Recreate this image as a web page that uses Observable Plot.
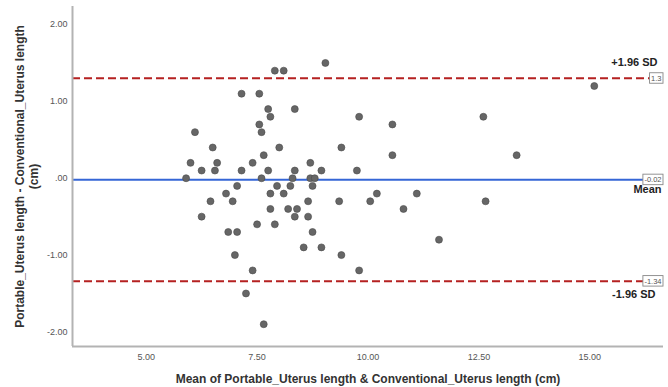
<!DOCTYPE html>
<html><head><meta charset="utf-8">
<script src="https://cdn.jsdelivr.net/npm/d3@7"></script>
<script src="https://cdn.jsdelivr.net/npm/@observablehq/plot@0.6"></script>
<style>body{margin:0;background:#fff;}</style>
</head><body><div id="chart"></div>
<script>
// Mean of the two measurements (x) and their difference (y)
const meanX = [
  9.04,
  7.9, 8.1,
  15.1,
  7.15, 7.55,
  7.75, 8.35,
  7.8, 9.8, 12.6,
  7.55, 10.55,
  6.1, 7.6,
  6.5, 8.0, 9.4,
  7.65, 10.55, 13.35,
  6.0, 6.6, 7.4, 8.7,
  6.25, 6.55, 7.15, 7.75, 8.35, 8.95, 9.75,
  5.9, 7.6, 8.3, 8.7, 8.8,
  7.05, 7.95, 8.25, 8.75,
  6.8, 7.8, 8.1, 10.2, 11.1,
  6.45, 6.95, 8.65, 9.35, 10.05, 12.65,
  7.8, 8.2, 8.4, 10.8,
  6.25, 8.35, 8.65,
  7.5, 7.9,
  6.85, 7.05, 8.75,
  11.6,
  8.55, 8.95,
  7.0, 9.4,
  7.4, 9.8,
  7.25,
  7.65
];
const diffY = [
  1.5,
  1.4, 1.4,
  1.2,
  1.1, 1.1,
  0.9, 0.9,
  0.8, 0.8, 0.8,
  0.7, 0.7,
  0.6, 0.6,
  0.4, 0.4, 0.4,
  0.3, 0.3, 0.3,
  0.2, 0.2, 0.2, 0.2,
  0.1, 0.1, 0.1, 0.1, 0.1, 0.1, 0.1,
  0.0, 0.0, 0.0, 0.0, 0.0,
  -0.1, -0.1, -0.1, -0.1,
  -0.2, -0.2, -0.2, -0.2, -0.2,
  -0.3, -0.3, -0.3, -0.3, -0.3, -0.3,
  -0.4, -0.4, -0.4, -0.4,
  -0.5, -0.5, -0.5,
  -0.6, -0.6,
  -0.7, -0.7, -0.7,
  -0.8,
  -0.9, -0.9,
  -1.0, -1.0,
  -1.2, -1.2,
  -1.5,
  -1.9
];
const limitValues = [1.3, -0.02, -1.34];
const limitLabels = ["+1.96 SD", "Mean", "-1.96 SD"];
const limitBoxLabels = ["1.3", "-0.02", "-1.34"];
const yTicks = [-2, -1, 0, 1, 2];
const xTicks = [5, 7.5, 10, 12.5, 15];
const xTitle = "Mean of Portable_Uterus length & Conventional_Uterus length (cm)";
const yTitle = "Portable_Uterus length - Conventional_Uterus length\n(cm)";
const xDomain = [3.34, 16.66];
const yDomain = [-2.19, 2.235];

const points = meanX.map((x, i) => ({x, y: diffY[i]}));
const limits = limitValues.map((v, i) => ({v, label: limitLabels[i], box: limitBoxLabels[i]}));
const fmt = d => d === 0 ? ".00" : d.toFixed(2);

const plot = Plot.plot({
  width: 668,
  height: 387,
  marginLeft: 72,
  marginRight: 5,
  marginTop: 6,
  marginBottom: 41,
  style: {fontFamily: "'Liberation Sans', Arial, sans-serif", fontSize: "9px", color: "#555", background: "#fff"},
  x: {domain: xDomain, ticks: xTicks, tickFormat: fmt, tickSize: 0, tickPadding: 7, label: null},
  y: {domain: yDomain, ticks: yTicks, tickFormat: fmt, tickSize: 0, tickPadding: 5, label: null},
  marks: [
    Plot.ruleY([limits[0], limits[2]], {y: "v", stroke: "#b52121", strokeWidth: 2, strokeDasharray: "8,4"}),
    Plot.ruleY([limits[1]], {y: "v", stroke: "#3566d6", strokeWidth: 2}),
    Plot.dot(points, {x: "x", y: "y", r: 3.5, fill: "#666", stroke: "#4a4a4a", strokeWidth: 0.6}),
    Plot.ruleX([xDomain[0]], {stroke: "#b3b3b3", strokeWidth: 2}),
    Plot.ruleY([yDomain[0]], {stroke: "#b3b3b3", strokeWidth: 2}),
    Plot.text([limits[0]], {y: "v", text: "label", frameAnchor: "right", textAnchor: "end", dx: -6, dy: -16, fontWeight: "bold", fontSize: 11, fill: "#222"}),
    Plot.text([limits[1]], {y: "v", text: "label", frameAnchor: "right", textAnchor: "end", dx: -2, dy: 10, fontWeight: "bold", fontSize: 11, fill: "#222"}),
    Plot.text([limits[2]], {y: "v", text: "label", frameAnchor: "right", textAnchor: "end", dx: -8, dy: 13, fontWeight: "bold", fontSize: 11, fill: "#222"}),
    Plot.text(limits, {y: "v", text: "box", frameAnchor: "right", textAnchor: "end", dx: -2, fontSize: 7.5, fill: "#555"}),
    Plot.text([yTitle], {frameAnchor: "left", rotate: -90, dx: -46, textAnchor: "middle", lineAnchor: "middle", lineHeight: 1.2, fontWeight: "bold", fontSize: 12, fill: "#333"}),
    Plot.text([xTitle], {frameAnchor: "bottom", dy: 33, textAnchor: "middle", lineAnchor: "middle", fontWeight: "bold", fontSize: 12, fill: "#333"})
  ]
});
document.getElementById("chart").append(plot);

const boxSet = new Set(limitBoxLabels);
Array.from(plot.querySelectorAll("text"))
  .filter(t => boxSet.has(t.textContent))
  .forEach(t => {
    const b = t.getBBox();
    const r = document.createElementNS("http://www.w3.org/2000/svg", "rect");
    r.setAttribute("x", b.x - 1.5);
    r.setAttribute("y", b.y - 1);
    r.setAttribute("width", b.width + 3);
    r.setAttribute("height", b.height + 1.5);
    r.setAttribute("fill", "#fff");
    r.setAttribute("stroke", "#888");
    r.setAttribute("stroke-width", "0.9");
    const tr = t.getAttribute("transform");
    if (tr) r.setAttribute("transform", tr);
    t.parentNode.insertBefore(r, t);
  });
</script>
</body></html>
